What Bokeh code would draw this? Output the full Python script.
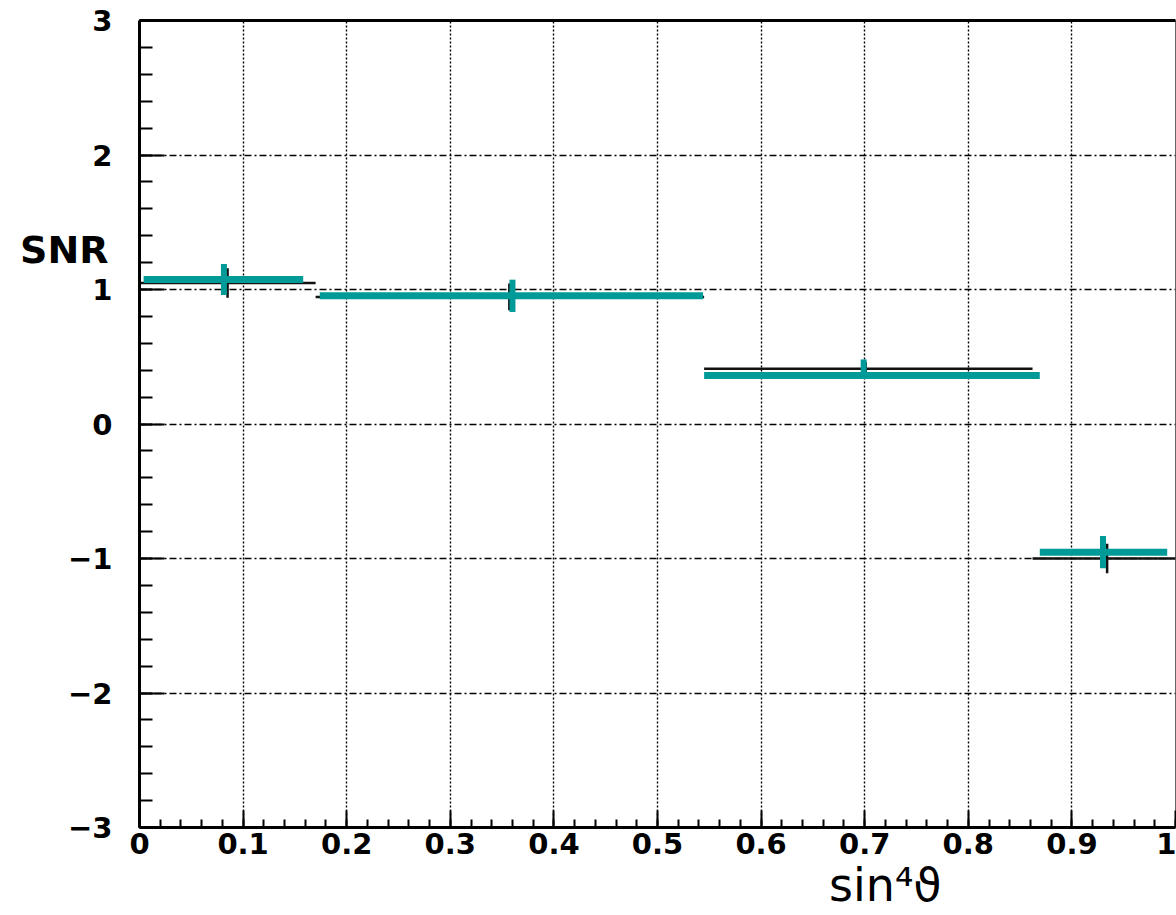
from bokeh.plotting import figure
from bokeh.models import (SingleIntervalTicker, FixedTicker, LinearAxis,
                          CustomJSTickFormatter, ColumnDataSource)
from bokeh.embed import file_html
from bokeh.resources import INLINE

# ---- data ----
# black (reference) histogram
black_lo = [0.0, 0.170, 0.545, 0.862]
black_hi = [0.170, 0.545, 0.862, 1.0]
black_x = [0.085, 0.357, 0.701, 0.934]
black_val = [1.048, 0.945, 0.41, -1.0]
black_err = [0.11, 0.10, 0.05, 0.11]

# teal histogram
teal_lo = [0.004, 0.174, 0.545, 0.869]
teal_hi = [0.158, 0.544, 0.869, 0.992]
teal_x = [0.0815, 0.360, 0.699, 0.930]
teal_val = [1.074, 0.953, 0.36, -0.953]
teal_err_up = [0.115, 0.12, 0.12, 0.12]
teal_err_dn = [0.115, 0.12, 0.02, 0.12]

x_title = "sin\u2074\u03d1"
y_title = "SNR"
x_title_pos = 0.72   # where the x title sits along the axis
y_title_pos = 1.29   # where the y title sits along the axis

TEAL = "#009a99"
FONT = "DejaVu Sans"

black_src = ColumnDataSource(dict(
    lo=black_lo, hi=black_hi, y=black_val, xc=black_x,
    ylo=[v - e for v, e in zip(black_val, black_err)],
    yhi=[v + e for v, e in zip(black_val, black_err)]))
teal_src = ColumnDataSource(dict(
    lo=teal_lo, hi=teal_hi, y=teal_val, xc=teal_x,
    ylo=[v - e for v, e in zip(teal_val, teal_err_dn)],
    yhi=[v + e for v, e in zip(teal_val, teal_err_up)]))

p = figure(width=1176, height=915, x_range=(0, 1), y_range=(-3, 3),
           output_backend="svg", toolbar_location=None,
           x_axis_location=None, y_axis_location=None,
           min_border_left=139, min_border_right=1,
           min_border_top=20, min_border_bottom=88)
p.background_fill_color = "white"
p.border_fill_color = "white"
p.outline_line_color = "#666666"
p.outline_line_width = 1

# axes
xaxis = LinearAxis(ticker=SingleIntervalTicker(interval=0.1, num_minor_ticks=5),
                   formatter=CustomJSTickFormatter(code="""
                       if (Math.abs(tick) < 1e-9) return "0";
                       if (Math.abs(tick - 1) < 1e-9) return "1";
                       return tick.toFixed(1);"""))
yaxis = LinearAxis(ticker=SingleIntervalTicker(interval=1, num_minor_ticks=5),
                   formatter=CustomJSTickFormatter(code="""
                       const v = Math.round(tick);
                       return v < 0 ? "\\u2212" + Math.abs(v) : String(v);"""))
for ax in (xaxis, yaxis):
    ax.axis_line_color = "black"
    ax.axis_line_width = 3
    ax.major_tick_line_color = "black"
    ax.minor_tick_line_color = "black"
    ax.major_tick_line_width = 2
    ax.minor_tick_line_width = 2
    ax.major_tick_out = 0
    ax.minor_tick_out = 0
    ax.major_label_text_font = FONT
    ax.major_label_text_font_style = "bold"
    ax.major_label_text_font_size = "29px"
    ax.major_label_text_color = "black"
xaxis.major_tick_in = 17
xaxis.minor_tick_in = 8
xaxis.major_label_standoff = 5
yaxis.major_tick_in = 25
yaxis.minor_tick_in = 13
yaxis.major_label_standoff = 27
p.add_layout(xaxis, "below")
p.add_layout(yaxis, "left")

# axis titles, carried by tick-less axes so they sit outside the frame
def title_axis(pos, text, size, standoff, style="normal"):
    ax = LinearAxis(ticker=FixedTicker(ticks=[pos]),
                    major_label_overrides={pos: text},
                    axis_line_color=None, major_tick_line_color=None,
                    minor_tick_line_color=None,
                    major_tick_in=0, major_tick_out=0,
                    minor_tick_in=0, minor_tick_out=0,
                    major_label_standoff=standoff,
                    major_label_text_font=FONT,
                    major_label_text_font_style=style,
                    major_label_text_font_size=size,
                    major_label_text_color="black")
    return ax

p.add_layout(title_axis(x_title_pos, x_title, "46px", 1), "below")
p.add_layout(title_axis(y_title_pos, y_title, "38px", -43, "bold"), "left")

top = LinearAxis(ticker=FixedTicker(ticks=[]), axis_line_width=3,
                 axis_line_color="black", major_tick_in=0, major_tick_out=0,
                 minor_tick_in=0, minor_tick_out=0)
p.add_layout(top, "above")

# grid
p.xgrid.ticker = xaxis.ticker
p.ygrid.ticker = yaxis.ticker
p.xgrid.grid_line_color = "black"
p.xgrid.grid_line_dash = "2 2"
p.xgrid.grid_line_width = 1.4
p.ygrid.grid_line_color = "black"
p.ygrid.grid_line_dash = "7 3 2 3"
p.ygrid.grid_line_width = 1.4

# black histogram
p.segment(x0="lo", x1="hi", y0="y", y1="y", source=black_src,
          line_color="#111111", line_width=2.5)
p.segment(x0="xc", x1="xc", y0="ylo", y1="yhi", source=black_src,
          line_color="#111111", line_width=2.5)
# teal histogram
p.segment(x0="lo", x1="hi", y0="y", y1="y", source=teal_src,
          line_color=TEAL, line_width=7)
p.segment(x0="xc", x1="xc", y0="ylo", y1="yhi", source=teal_src,
          line_color=TEAL, line_width=6)

open("out.html", "w").write(file_html(p, INLINE))
